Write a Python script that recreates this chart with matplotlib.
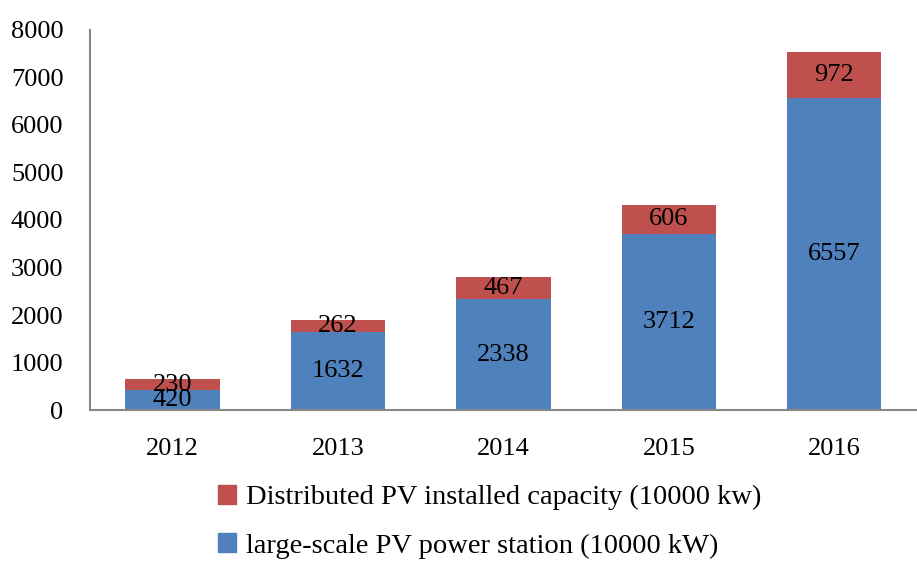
import matplotlib.pyplot as plt
from matplotlib.patches import Patch

years = ["2012", "2013", "2014", "2015", "2016"]
large_scale = [420, 1632, 2338, 3712, 6557]
distributed = [230, 262, 467, 606, 972]

blue = "#4F81BD"
red = "#C0504D"

plt.rcParams['font.family'] = ['Liberation Serif', 'DejaVu Serif']

fig = plt.figure(figsize=(9.17, 5.61), dpi=100)
ax = fig.add_axes([0.098, 0.269, 0.902, 0.678])

x = range(len(years))
b1 = ax.bar(x, large_scale, width=0.57, color=blue)
b2 = ax.bar(x, distributed, width=0.57, bottom=large_scale, color=red)

ax.bar_label(b1, labels=[str(v) for v in large_scale], label_type='center', fontsize=19)
ax.bar_label(b2, labels=[str(v) for v in distributed], label_type='center', fontsize=19)

ax.set_xlim(-0.5, len(years) - 0.5)
ax.set_ylim(0, 8000)
ax.set_yticks(range(0, 8001, 1000))
ax.set_xticks(list(x))
ax.set_xticklabels(years)
ax.tick_params(axis='both', length=0, labelsize=19)
ax.tick_params(axis='y', pad=19)
ax.tick_params(axis='x', pad=20)

for s in ['top', 'right']:
    ax.spines[s].set_visible(False)
for s in ['left', 'bottom']:
    ax.spines[s].set_color('#888888')
    ax.spines[s].set_linewidth(1.5)

handles = [Patch(color=red), Patch(color=blue)]
fig.legend(handles,
           ["Distributed PV installed capacity (10000 kw)",
            "large-scale PV power station (10000 kW)"],
           loc='center', bbox_to_anchor=(0.534, 0.070), frameon=False,
           fontsize=20.5, handlelength=0.65, handleheight=0.65, handletextpad=0.35,
           labelspacing=0.8, alignment='left')

fig.savefig("out.png", dpi=100)
